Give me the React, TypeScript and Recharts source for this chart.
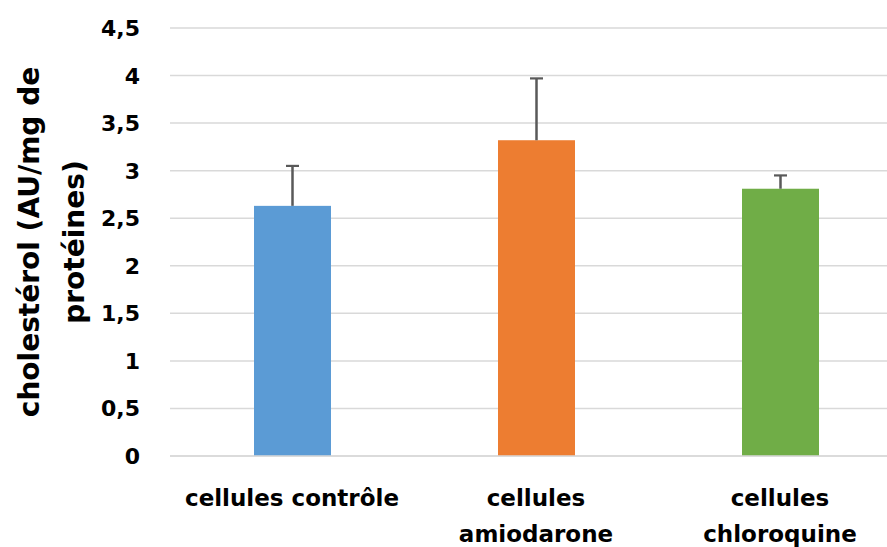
import React from "react";
import { BarChart, Bar, XAxis, YAxis, CartesianGrid, Cell } from "recharts";

const categories = ["cellules contrôle", "cellules amiodarone", "cellules chloroquine"];
const categoryLines = [["cellules contrôle"], ["cellules", "amiodarone"], ["cellules", "chloroquine"]];
const values = [2.63, 3.32, 2.81];
const errors = [0.42, 0.65, 0.14];
const colors = ["#5B9BD5", "#ED7D31", "#70AD47"];
const yTicks = [0, 0.5, 1, 1.5, 2, 2.5, 3, 3.5, 4, 4.5];
const titleLines = ["cholestérol (AU/mg de", "protéines)"];

const data = categories.map((c, i) => ({ name: c, value: values[i], err: errors[i], idx: i }));

const FONT = "'DejaVu Sans', sans-serif";

const YTick = (props: any) => {
  const { y, payload } = props;
  const label = String(payload.value).replace(".", ",");
  return (
    <text x={140} y={y} dy={8} textAnchor="end" fontFamily={FONT} fontWeight="bold" fontSize={22} fill="#000">
      {label}
    </text>
  );
};

const XTick = (props: any) => {
  const { x, payload } = props;
  const i = categories.indexOf(payload.value);
  const lines = categoryLines[i] || [payload.value];
  return (
    <g>
      {lines.map((l, k) => (
        <text key={k} x={x} y={506 + k * 36} textAnchor="middle" fontFamily={FONT} fontWeight="bold" fontSize={23} fill="#000">
          {l}
        </text>
      ))}
    </g>
  );
};

const BarWithError = (props: any) => {
  const { x, y, width, height, fill, payload } = props;
  const perUnit = payload.value ? height / payload.value : 0;
  const top = y - payload.err * perUnit;
  const cx = x + width / 2;
  return (
    <g>
      <rect x={x} y={y} width={width} height={height} fill={fill} />
      <line x1={cx} x2={cx} y1={y} y2={top} stroke="#595959" strokeWidth={2.5} />
      <line x1={cx - 6.5} x2={cx + 6.5} y1={top} y2={top} stroke="#595959" strokeWidth={2.2} />
    </g>
  );
};

const YTitle = () => (
  <g>
    <text x={39} y={242} transform="rotate(-90, 39, 242)" textAnchor="middle" fontFamily={FONT} fontWeight="bold" fontSize={28} fill="#000">
      {titleLines[0]}
    </text>
    <text x={84} y={242} transform="rotate(-90, 84, 242)" textAnchor="middle" fontFamily={FONT} fontWeight="bold" fontSize={28} fill="#000">
      {titleLines[1]}
    </text>
  </g>
);

export default function App() {
  return (
    <div style={{ position: "absolute", left: 0, top: 0, width: 887, height: 547, overflow: "hidden", background: "#fff" }}>
      <BarChart width={910} height={547} data={data} margin={{ top: 28, right: 8, bottom: 0, left: 0 }}>
        <CartesianGrid vertical={false} stroke="#D9D9D9" strokeWidth={1.5} />
        <XAxis dataKey="name" height={91} tickLine={false} axisLine={{ stroke: "#D9D9D9", strokeWidth: 1.5 }} tick={<XTick />} interval={0} />
        <YAxis width={170} domain={[0, 4.5]} ticks={yTicks} axisLine={false} tickLine={false} tick={<YTick />} interval={0} />
        <Bar dataKey="value" barSize={77} isAnimationActive={false} shape={<BarWithError />}>
          {data.map((d, i) => (
            <Cell key={i} fill={colors[i]} />
          ))}
        </Bar>
        <YTitle />
      </BarChart>
    </div>
  );
}
